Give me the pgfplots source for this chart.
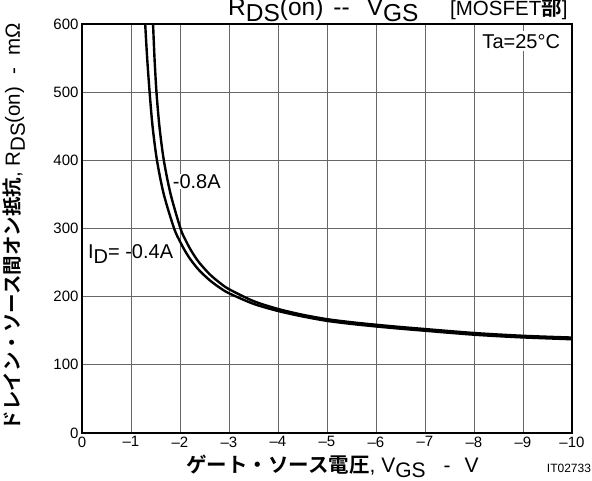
\documentclass[border=0pt]{standalone}
\usepackage{pgfplots}
\pgfplotsset{compat=1.18}
\usepackage{fontspec}
\setmainfont{Liberation Sans}
\newfontfamily\jp{Noto Sans CJK JP}
\newfontfamily\jpb{Noto Sans CJK JP Bold}
\newcommand\sub[1]{\raisebox{-0.45ex}{#1}}
\newcommand\fs[1]{\fontsize{#1}{#1}\selectfont}

\begin{document}
\begin{tikzpicture}
\useasboundingbox (-82pt,-48pt) rectangle (510pt,433pt);
\begin{axis}[
    at={(0,0)}, anchor=south west,
    scale only axis,
    width=490pt, height=409pt,
    xmin=-10, xmax=0, ymin=0, ymax=600,
    x dir=reverse,
    xtick={0,-1,-2,-3,-4,-5,-6,-7,-8,-9,-10},
    xticklabels={0,–1,–2,–3,–4,–5,–6,–7,–8,–9,–10},
    ytick={0,100,200,300,400,500,600},
    /pgf/number format/assume math mode=true,
    tick label style={font=\fs{15}},
    major tick length=0pt,
    grid=major,
    major grid style={black!60, line width=0.8pt},
    axis line style={black, line width=1.5pt},
]
% ID = -0.4A
\addplot[black, line width=2.4pt, smooth] coordinates {
    (-1.27,630) (-1.29,600) (-1.33,550) (-1.38,500) (-1.44,450)
    (-1.53,400) (-1.67,350) (-1.88,300) (-2.0,281) (-2.1,267.5)
    (-2.2,256) (-2.3,246.5) (-2.4,238) (-2.6,224.5) (-2.8,213.7)
    (-3.0,205) (-3.5,189.5) (-4,179) (-4.5,171) (-5,164.5)
    (-5.5,160) (-6,156.3) (-6.5,153) (-7,150) (-7.5,147)
    (-8,144.2) (-8.5,142) (-9,140.2) (-9.5,138.8) (-10,137.5)
};
% ID = -0.8A
\addplot[black, line width=2.4pt, smooth] coordinates {
    (-1.43,630) (-1.45,600) (-1.48,550) (-1.52,500) (-1.58,450)
    (-1.67,400) (-1.81,350) (-2.01,300) (-2.1,285) (-2.2,271)
    (-2.3,259.3) (-2.4,249.3) (-2.6,233.3) (-2.8,221) (-3.0,211)
    (-3.5,193.5) (-4,182) (-4.5,173.5) (-5,167) (-5.5,162.5)
    (-6,158.8) (-6.5,155.5) (-7,152.5) (-7.5,149.5) (-8,146.7)
    (-8.5,144.5) (-9,142.6) (-9.5,141.2) (-10,140)
};
\node[anchor=base west, fill=white, inner sep=0.5pt, font=\fs{20}] at (axis cs:-1.84,358.8) {-0.8A};
\node[anchor=base west, inner sep=0pt, font=\fs{20}] at (axis cs:-0.12,256) {I\sub{D}= -0.4A};
\node[anchor=base east, fill=white, inner sep=3pt, font=\fs{20}] at (axis cs:-9.82,564.5) {Ta=25°C};
\end{axis}
% title
\node[anchor=base west, font=\fs{24.5}, inner sep=0pt] at (146pt,417pt)
    {R\sub{DS}(on)\hspace{10pt}-{}-\hspace{17pt}V\sub{GS}};
\node[anchor=base west, font=\fs{20.5}, inner sep=0pt] at (368pt,417pt) {[MOSFET{\jpb 部}]};
% axis labels
\node[rotate=90, anchor=base, font=\fs{20.5}, inner sep=0pt] at (-62pt,206pt)
    {{\jpb\fs{19.5}ドレイン・ソース間オン抵抗}, R\sub{DS}(on)\hspace{12pt}-\hspace{12pt}mΩ};
\node[anchor=base west, font=\fs{21}, inner sep=0pt] at (104pt,-40pt)
    {{\jpb\fs{20.5}ゲート・ソース電圧}, V\sub{GS}\hspace{18pt}-\hspace{14pt}V};
\node[font=\fs{12}, inner sep=0pt] at (487pt,-35pt) {IT02733};
\end{tikzpicture}
\end{document}
